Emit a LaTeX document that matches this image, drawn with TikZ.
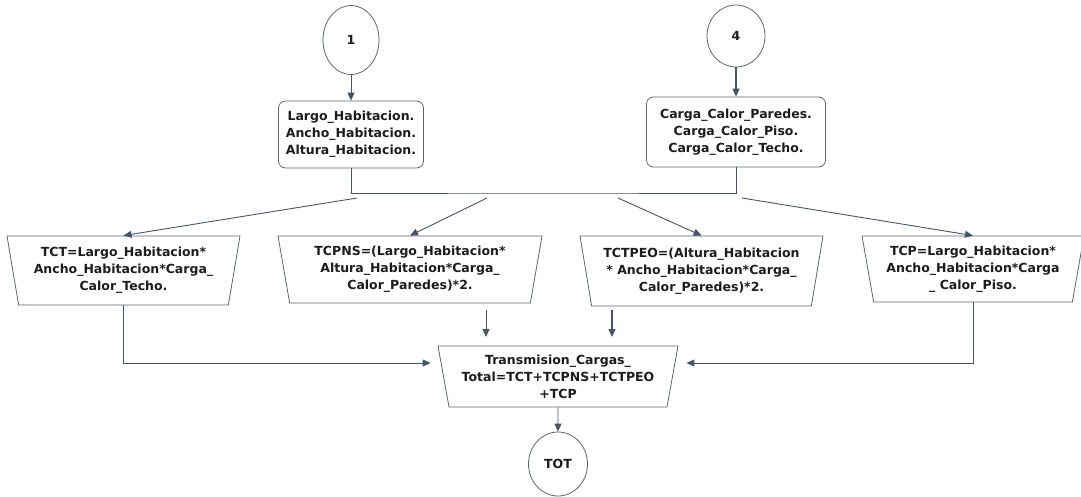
\documentclass[tikz,border=0pt]{standalone}
\usepackage{fontspec}
\setmainfont{DejaVu Sans}
\usepackage{xcolor}
\usetikzlibrary{arrows.meta,positioning,shapes.geometric}
\definecolor{FlowLine}{HTML}{46546B}
\definecolor{BoxEdge}{HTML}{5E6470}
\definecolor{Ink}{HTML}{1C1C1C}

\begin{document}
\begin{tikzpicture}[x=1pt,y=-1pt,
  txt/.style={font=\fontsize{12.5}{17}\selectfont\bfseries,text=Ink,align=center},
  conn/.style={ellipse,draw=BoxEdge,line width=0.8pt,txt,inner sep=0pt},
  databox/.style={rectangle,rounded corners=7pt,draw=BoxEdge,line width=0.8pt,txt,inner sep=0pt},
  calcbox/.style={trapezium,trapezium angle=77,shape border rotate=180,trapezium stretches body,draw=BoxEdge,line width=0.8pt,txt,inner sep=2pt},
  flow/.style={draw=FlowLine,line width=0.9pt},
  arr/.style={flow,-{Triangle[length=8pt,width=7pt]}}
]
\useasboundingbox (0,0) rectangle (1081,496);

% connectors in / out
\node[conn,minimum width=56pt,minimum height=69pt] (c1) at (351,40) {1};
\node[conn,minimum width=58pt,minimum height=62pt] (c4) at (736,36) {4};
\node[conn,minimum width=59pt,minimum height=64pt] (tot) at (558,464) {TOT};

% input data
\node[databox,minimum width=145pt,minimum height=67pt] (b1) at (351,134.5) {Largo\_Habitacion.\\Ancho\_Habitacion.\\Altura\_Habitacion.};
\node[databox,minimum width=179pt,minimum height=70pt] (b4) at (736,132) {Carga\_Calor\_Paredes.\\Carga\_Calor\_Piso.\\Carga\_Calor\_Techo.};

% calculations
\node[calcbox,minimum width=233pt,minimum height=69pt] (tct) at (123.5,270.5) {TCT=Largo\_Habitacion*\\Ancho\_Habitacion*Carga\_\\Calor\_Techo.};
\node[calcbox,minimum width=264pt,minimum height=67pt] (tcpns) at (410,269.5) {TCPNS=(Largo\_Habitacion*\\Altura\_Habitacion*Carga\_\\Calor\_Paredes)*2.};
\node[calcbox,minimum width=243pt,minimum height=70pt] (tctpeo) at (701.5,271) {TCTPEO=(Altura\_Habitacion\\{*} Ancho\_Habitacion*Carga\_\\Calor\_Paredes)*2.};
\node[calcbox,minimum width=222pt,minimum height=66pt] (tcp) at (973,269) {TCP=Largo\_Habitacion*\\Ancho\_Habitacion*Carga\\\_ Calor\_Piso.};
\node[calcbox,minimum width=240pt,minimum height=61pt] (total) at (558,376.5) {Transmision\_Cargas\_\\Total=TCT+TCPNS+TCTPEO\\+TCP};

\draw[arr] (c1.south) -- (b1.north);
\draw[arr,line width=1.3pt] (c4.south) -- (b4.north);

\coordinate (bus) at (543,193);
\draw[flow] (b1.south) |- (bus) -| (b4.south);

\foreach \x/\n in {357/tct,487/tcpns,618/tctpeo,742/tcp}{
  \coordinate (s-\n) at (\x,198);
  \draw[arr] (s-\n) -- (\n.north);
}

\coordinate (f1) at (486,310);
\coordinate (f1e) at (486,337);
\coordinate (f2) at (612,310);
\coordinate (f2e) at (612,337);
\draw[arr] (f1) -- (f1e);
\draw[arr,line width=1.3pt] (f2) -- (f2e);

\draw[arr] (tct.south) |- ([xshift=-12.5pt,yshift=13.5pt]total.west);
\draw[arr] (tcp.south) |- ([xshift=13.5pt,yshift=13.5pt]total.east);
\draw[arr] (total.south) -- (tot.north);
\end{tikzpicture}
\end{document}
